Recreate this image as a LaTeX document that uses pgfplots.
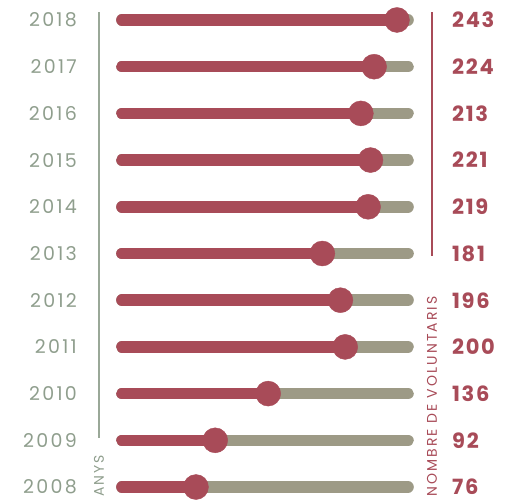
\documentclass[border=0pt]{standalone}
\usepackage{pgfplots}
\pgfplotsset{compat=1.18}
\usepackage{pgfplotstable}
\usepackage{fontspec}
\setmainfont{Poppins}
\definecolor{barred}{HTML}{A84B58}
\definecolor{track}{HTML}{9D9A86}
\definecolor{yeargray}{HTML}{8F9E8D}
\definecolor{linegray}{HTML}{9AA898}
\pgfplotstableread{
row year value
0 2008 76
1 2009 92
2 2010 136
3 2011 200
4 2012 196
5 2013 181
6 2014 219
7 2015 221
8 2016 213
9 2017 224
10 2018 243
}\data
\begin{document}
\begin{tikzpicture}
\begin{axis}[
  width=507pt, height=500pt, scale only axis,
  xmin=-86.8, xmax=334.4, ymin=-0.278, ymax=10.428,
  hide axis, clip=false,
]
% background tracks
\addplot[draw=none, no markers, forget plot,
  error bars/.cd, x dir=plus, x explicit, error mark=none,
  error bar style={line width=11.5pt, line cap=round, color=track}]
  table[x expr=14.5, y=row, x error expr=237.7] {\data};
% red bars
\addplot[draw=none, no markers, forget plot,
  error bars/.cd, x dir=plus, x explicit, error mark=none,
  error bar style={line width=11.5pt, line cap=round, color=barred}]
  table[x expr=14.5, y=row, x error expr=\thisrow{value}-14.5] {\data};
% dots
\addplot[only marks, mark=*, mark size=12.5pt, color=barred, mark options={draw=none, fill=barred}]
  table[x=value, y=row] {\data};
% year labels
\addplot[draw=none, no markers, nodes near coords, point meta=explicit symbolic,
  nodes near coords style={anchor=east, inner sep=0pt, text=yeargray, font=\fontsize{19}{22}\selectfont\addfontfeature{LetterSpace=12}}]
  table[x expr=-22.8, y=row, meta=year] {\data};
% value labels
\addplot[draw=none, no markers, nodes near coords, point meta=explicit symbolic,
  nodes near coords style={anchor=west, inner sep=0pt, text=barred, font=\fontsize{21}{24}\selectfont\bfseries\addfontfeature{LetterSpace=8}}]
  table[x expr=288.7, y=row, meta=value] {\data};
% vertical lines
\addplot[linegray, line width=2.5pt] coordinates {(-4.6,10.17) (-4.6,1.05)};
\addplot[barred, line width=2.5pt] coordinates {(272.1,10.17) (272.1,4.95)};
\node[rotate=90, anchor=west, inner sep=0pt, text=yeargray, font=\fontsize{14}{16}\selectfont\addfontfeature{LetterSpace=15}] at (axis cs:-4.6,-0.214) {ANYS};
\node[rotate=90, anchor=west, inner sep=0pt, text=barred, font=\fontsize{14}{16}\selectfont\addfontfeature{LetterSpace=15}] at (axis cs:272.1,-0.214) {NOMBRE DE VOLUNTARIS};
\end{axis}
\pgfresetboundingbox
\path (current axis.south west) rectangle (current axis.north east);
\end{tikzpicture}
\end{document}
